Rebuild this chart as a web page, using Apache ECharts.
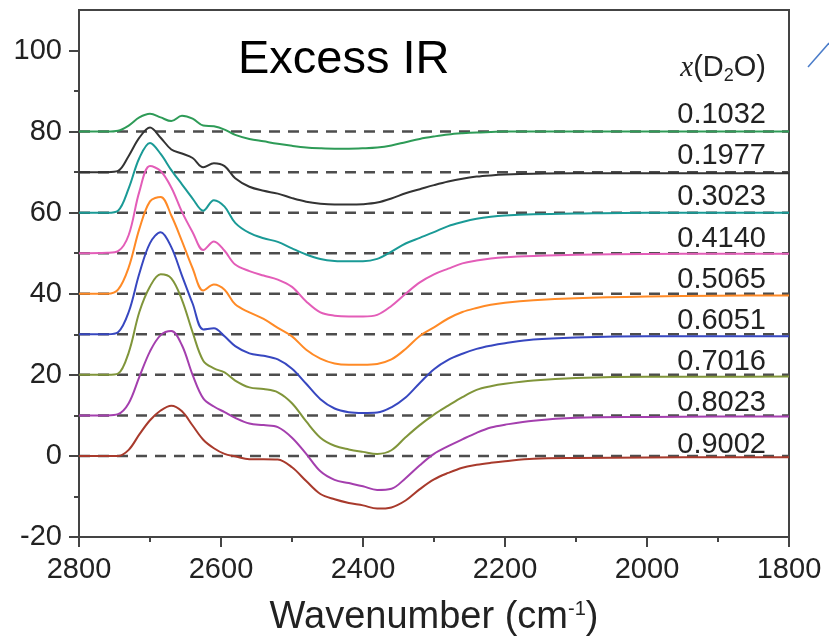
<!DOCTYPE html>
<html>
<head>
<meta charset="utf-8">
<script src="https://cdn.jsdelivr.net/npm/echarts@6/dist/echarts.min.js"></script>
<style>html,body{margin:0;padding:0;background:#fff}#c{width:829px;height:642px}</style>
</head>
<body>
<div id="c"></div>
<script>
// ---- data ----
const wavenumbers = [2800,2760,2745,2730,2715,2700,2685,2670,2655,2640,2625,2610,2595,2580,2560,2540,2520,2500,2480,2460,2440,2420,2400,2380,2360,2340,2320,2300,2280,2260,2240,2220,2200,2160,2100,2000,1900,1800];
const fractions = ['0.1032','0.1977','0.3023','0.4140','0.5065','0.6051','0.7016','0.8023','0.9002'];
const offsets = [80,70,60,50,40,30,20,10,0];
const yTicks = [-20,0,20,40,60,80,100];
const xTicks = [2800,2600,2400,2200,2000,1800];

const ir_01032 = [0,0,0.2,1.5,3.5,4.4,3.5,2.6,3.9,3.2,1.5,1.3,0.5,-0.8,-1.8,-2.4,-3.0,-3.5,-3.9,-4.1,-4.2,-4.2,-4.1,-3.9,-3.4,-2.6,-1.8,-1.2,-0.7,-0.4,-0.2,-0.1,0,0,0,0,0,0];
const ir_01977 = [0,0,0.3,4,8.5,11,8.5,5.6,4.6,3.5,1.2,2.2,1.5,-1.5,-3.6,-4.6,-5.3,-6.4,-7.3,-7.8,-8.0,-8.0,-7.9,-7.5,-6.5,-5.2,-4.2,-3.2,-2.3,-1.6,-1.1,-0.8,-0.6,-0.4,-0.3,-0.3,-0.3,-0.3];
const ir_03023 = [0,0,0.5,6,13.5,17.2,14.5,10.5,7,3.5,0.5,3.1,1.5,-2.5,-5,-6.3,-7.2,-8.8,-10.3,-11.4,-11.9,-12.0,-12.0,-11.4,-9.6,-7.6,-6.2,-4.8,-3.3,-2.3,-1.5,-1.0,-0.7,-0.4,-0.2,0,0,0];
const ir_04140 = [0,0.1,0.5,4.5,15.2,21.5,20.3,16.2,10.2,5.2,0.8,2.9,0.6,-2.8,-4.4,-5.5,-6.5,-8.3,-11.9,-14.6,-15.4,-15.6,-15.6,-15.2,-13.0,-10.0,-7.2,-5.2,-3.8,-2.5,-1.8,-1.3,-1.0,-0.7,-0.4,-0.2,-0.1,-0.1];
const ir_05065 = [0,0,1.0,6.5,16,22.8,23.9,19.3,13,6.3,0.8,2.3,1.0,-2.6,-4.6,-6.2,-8.4,-10.5,-13.8,-16.0,-17.2,-17.5,-17.5,-17.3,-16.2,-13.6,-10.4,-8.3,-6.1,-4.5,-3.5,-2.7,-2.2,-1.6,-1.1,-0.7,-0.5,-0.4];
const ir_06051 = [0,0,0.5,5.5,15,22.5,25.2,21.5,14.5,7.6,1.2,1.5,-0.5,-2.9,-4.7,-5.3,-6.2,-8.5,-12.2,-16.0,-18.3,-19.2,-19.4,-19.3,-18.0,-15.6,-12.0,-8.6,-6.3,-4.8,-3.6,-2.8,-2.2,-1.3,-0.8,-0.5,-0.5,-0.5];
const ir_07016 = [0,0,0.3,5.5,15.5,21.8,24.8,23.8,18.5,10.5,3.5,1.6,0.6,-1.4,-3.1,-3.5,-4.3,-7.0,-11.5,-15.5,-17.5,-18.4,-19.0,-19.5,-18.6,-15.4,-12.4,-9.8,-7.6,-5.5,-3.7,-2.8,-2.2,-1.4,-0.8,-0.5,-0.5,-0.4];
const ir_08023 = [0,0,0.3,3.0,9.5,15.8,19.8,20.8,17.3,10,4.2,2.2,0.8,-0.6,-2.0,-2.4,-2.9,-5.5,-9.5,-13.8,-15.9,-16.7,-17.5,-18.4,-18.1,-15.5,-12.3,-9.5,-7.6,-5.9,-4.3,-3.0,-2.3,-1.3,-0.6,-0.4,-0.3,-0.3];
const ir_09002 = [0,0,0,1.5,5.3,8.8,11.2,12.4,11.0,7.5,4.0,1.9,0.5,-0.1,-0.8,-0.8,-0.9,-2.8,-6.2,-9.4,-10.7,-11.6,-12.2,-13.0,-12.7,-11.0,-8.2,-5.8,-4.2,-2.9,-2.2,-1.7,-1.3,-0.7,-0.5,-0.4,-0.3,-0.3];

const spectra = [ir_01032, ir_01977, ir_03023, ir_04140, ir_05065, ir_06051, ir_07016, ir_08023, ir_09002];
const colors = ['#2e9b57','#333333','#1a9a96','#e35db8','#ff8a26','#3747c0','#80953a','#a43fae','#a83a2c'];

const FONT = '"Liberation Sans", Arial, Helvetica, sans-serif';

const series = [];
// dashed baselines (under curves)
offsets.forEach((off) => {
  series.push({
    type: 'line', silent: true, symbol: 'none', z: 1,
    data: [[xTicks[0], off], [xTicks[xTicks.length - 1], off]],
    lineStyle: { color: '#4d4d4d', width: 2.5, type: [11, 8] }
  });
});
spectra.forEach((vals, k) => {
  series.push({
    name: fractions[k], type: 'line', symbol: 'none', smooth: 0.35, z: 3,
    data: wavenumbers.map((w, i) => [w, vals[i] + offsets[k]]),
    lineStyle: { color: colors[k], width: 2 }
  });
});

const graphics = [
  { type: 'text', left: 238, top: 37, style: { text: 'Excess IR', font: '47px ' + FONT, fill: '#000' } },
  { type: 'text', x: 766, y: 68, style: {
      text: '{it|x}(D{sub|2}O)', align: 'right', verticalAlign: 'middle',
      font: '29px ' + FONT, fill: '#222',
      rich: { it: { fontFamily: '"Liberation Serif", serif', fontStyle: 'italic', fontSize: 29, fill: '#222' },
              sub: { fontSize: 18, verticalAlign: 'bottom', padding: [16, 0, 0, 0], fill: '#222' } } } },
  { type: 'line', shape: { x1: 808, y1: 67, x2: 829, y2: 43 }, style: { stroke: '#4a7cc9', lineWidth: 1.5 } }
];
fractions.forEach((f, k) => {
  graphics.push({ type: 'text', x: 766, y: 115 + k * 41.2,
    style: { text: f, align: 'right', verticalAlign: 'middle', font: '29px ' + FONT, fill: '#222' } });
});

const chart = echarts.init(document.getElementById('c'), null, { renderer: 'canvas' });
chart.setOption({
  animation: false,
  backgroundColor: '#fff',
  grid: { left: 79, right: 40, top: 10, bottom: 104, show: true, borderColor: '#444', borderWidth: 2, backgroundColor: 'transparent' },
  xAxis: {
    type: 'value', inverse: true, min: 1800, max: 2800, interval: 200,
    name: 'Wavenumber (cm{sup|-1})', nameLocation: 'middle', nameGap: 62,
    nameTextStyle: { fontFamily: FONT, fontSize: 38, color: '#222',
      rich: { sup: { fontSize: 20, verticalAlign: 'top', padding: [0, 0, 18, 0], color: '#222' } } },
    axisLine: { onZero: false, lineStyle: { color: '#444', width: 2 } },
    axisTick: { length: 10, lineStyle: { color: '#444', width: 2 } },
    minorTick: { show: true, splitNumber: 2, length: 5, lineStyle: { color: '#444', width: 2 } },
    splitLine: { show: false },
    axisLabel: { fontFamily: FONT, fontSize: 29, color: '#222', margin: 18, formatter: (v) => String(v) }
  },
  yAxis: {
    type: 'value', min: -20, max: 110, interval: 20,
    axisLine: { lineStyle: { color: '#444', width: 2 } },
    axisTick: { length: 10, lineStyle: { color: '#444', width: 2 }, customValues: yTicks },
    minorTick: { show: true, splitNumber: 2, length: 5, lineStyle: { color: '#444', width: 2 } },
    splitLine: { show: false },
    axisLabel: { fontFamily: FONT, fontSize: 29, color: '#222', margin: 17, customValues: yTicks }
  },
  series: series,
  graphic: graphics
});
</script>
</body>
</html>
